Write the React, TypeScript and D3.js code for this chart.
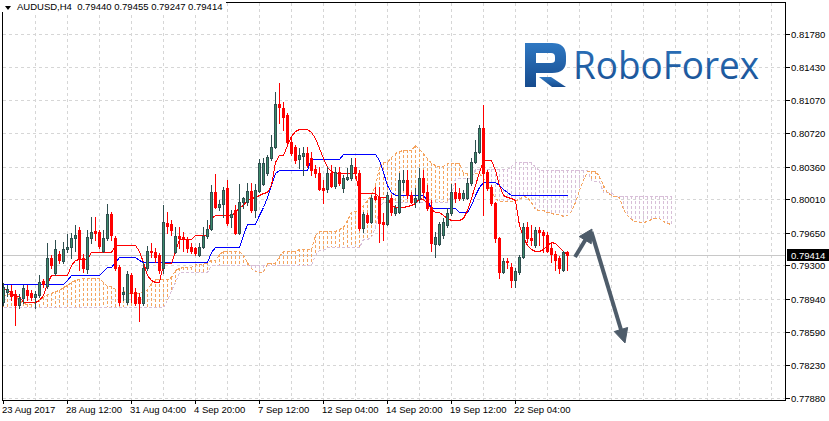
import React from "react";
import * as d3 from "d3";

const W = 829;
const H = 421;

const symbol = "AUDUSD,H4";

const openP = [
  0.7891, 0.7902, 0.7903, 0.7899, 0.7888, 0.7895, 0.7904, 0.7901, 0.7896, 0.7898,
  0.7913, 0.7908, 0.7938, 0.7922, 0.7942, 0.7935, 0.7948, 0.795, 0.7959, 0.7968,
  0.7938, 0.7926, 0.7959, 0.7967, 0.7966, 0.7946, 0.7959, 0.7985, 0.7959, 0.7928,
  0.7899, 0.7891, 0.792, 0.7902, 0.7896, 0.789, 0.7927, 0.7946, 0.7944, 0.7941,
  0.7927, 0.7976, 0.7974, 0.7944, 0.7962, 0.796, 0.7958, 0.795, 0.7949, 0.7941,
  0.795, 0.7962, 0.7969, 0.8009, 0.7993, 0.7996, 0.8013, 0.7982, 0.7989, 0.7965,
  0.7998, 0.7998, 0.801, 0.7989, 0.801, 0.8017, 0.8029, 0.8045, 0.8057, 0.8103,
  0.8099, 0.8091, 0.8062, 0.8057, 0.8044, 0.8047, 0.805, 0.8045, 0.8033, 0.8029,
  0.8013, 0.8012, 0.8029, 0.8015, 0.803, 0.8013, 0.8023, 0.8024, 0.8036, 0.8029,
  0.797, 0.7984, 0.7977, 0.8004, 0.8003, 0.7977, 0.7974, 0.8002, 0.7986, 0.7987,
  0.8019, 0.8022, 0.8005, 0.7998, 0.8001, 0.8024, 0.8009, 0.7993, 0.7953, 0.7953,
  0.7963, 0.7973, 0.7986, 0.8009, 0.8008, 0.8002, 0.8002, 0.8018, 0.8041, 0.8052,
  0.8077, 0.803, 0.8014, 0.7997, 0.7959, 0.7923, 0.7935, 0.7928, 0.7914, 0.7923,
  0.7939, 0.7971, 0.7959, 0.7952, 0.7968, 0.7966, 0.7963, 0.7949, 0.7942, 0.7938,
  0.7925, 0.7944,
];

const highP = [
  0.7911, 0.7909, 0.7909, 0.7904, 0.7899, 0.7909, 0.7909, 0.7904, 0.7903, 0.792,
  0.7915, 0.7954, 0.7941, 0.7957, 0.7946, 0.7955, 0.7964, 0.7965, 0.7973, 0.7971,
  0.7942, 0.7968, 0.7982, 0.7982, 0.7968, 0.7968, 0.7996, 0.7987, 0.7962, 0.793,
  0.7907, 0.7924, 0.7922, 0.7906, 0.7901, 0.7934, 0.7951, 0.7954, 0.7949, 0.7943,
  0.7995, 0.7987, 0.7979, 0.7971, 0.7971, 0.7966, 0.796, 0.7954, 0.795, 0.7954,
  0.7971, 0.7979, 0.8016, 0.8028, 0.8, 0.8014, 0.8022, 0.7989, 0.7995, 0.8017,
  0.8003, 0.8018, 0.8018, 0.8017, 0.8044, 0.8045, 0.8048, 0.807, 0.8116, 0.8126,
  0.8105, 0.8093, 0.8067, 0.8059, 0.8056, 0.8057, 0.8057, 0.8052, 0.8038, 0.8036,
  0.8022, 0.8036, 0.8038, 0.8036, 0.8036, 0.8027, 0.8034, 0.8045, 0.8045, 0.8032,
  0.7987, 0.7986, 0.8005, 0.8014, 0.8014, 0.7986, 0.8009, 0.8005, 0.7995, 0.8029,
  0.8032, 0.8032, 0.8009, 0.8013, 0.8034, 0.8032, 0.8016, 0.8, 0.7966, 0.7977,
  0.7981, 0.7992, 0.8017, 0.8018, 0.8013, 0.8011, 0.8024, 0.8045, 0.8064, 0.808,
  0.8102, 0.8032, 0.8016, 0.7998, 0.796, 0.7938, 0.7938, 0.7933, 0.7927, 0.7941,
  0.7976, 0.7977, 0.7973, 0.7971, 0.7971, 0.7968, 0.7966, 0.7955, 0.7946, 0.794,
  0.7946, 0.79455,
];

const lowP = [
  0.7888, 0.7897, 0.7893, 0.7866, 0.7884, 0.789, 0.7893, 0.7893, 0.7884, 0.7896,
  0.7907, 0.7906, 0.7927, 0.792, 0.7933, 0.7933, 0.7944, 0.7938, 0.7946, 0.7925,
  0.7923, 0.7922, 0.7954, 0.7957, 0.7949, 0.7944, 0.7957, 0.7957, 0.7925, 0.7888,
  0.7893, 0.7889, 0.7891, 0.7888, 0.7871, 0.7888, 0.7925, 0.7939, 0.7934, 0.7922,
  0.7922, 0.7965, 0.7963, 0.7943, 0.7949, 0.7946, 0.7944, 0.7943, 0.7941, 0.794,
  0.7949, 0.7959, 0.7968, 0.7992, 0.7989, 0.7982, 0.7973, 0.7971, 0.7964, 0.7964,
  0.7992, 0.7995, 0.7987, 0.7982, 0.8009, 0.8016, 0.8027, 0.8043, 0.8056, 0.8083,
  0.8075, 0.8059, 0.8048, 0.804, 0.8034, 0.8027, 0.8036, 0.8027, 0.8025, 0.8011,
  0.7997, 0.8009, 0.8014, 0.8013, 0.8016, 0.8009, 0.8022, 0.8022, 0.8024, 0.7968,
  0.7966, 0.7976, 0.7976, 0.8, 0.7955, 0.7957, 0.7973, 0.7984, 0.7984, 0.7986,
  0.8011, 0.8002, 0.7997, 0.7993, 0.7998, 0.8003, 0.7989, 0.7946, 0.7939, 0.7952,
  0.7959, 0.7971, 0.7984, 0.7998, 0.8, 0.8, 0.8001, 0.8016, 0.804, 0.805,
  0.7984, 0.8011, 0.7995, 0.7955, 0.7917, 0.7922, 0.7927, 0.7907, 0.7907, 0.7921,
  0.7938, 0.7955, 0.7952, 0.795, 0.7952, 0.7944, 0.7944, 0.7934, 0.7925, 0.7922,
  0.7924, 0.79247,
];

const closeP = [
  0.7907, 0.7905, 0.7897, 0.7888, 0.7895, 0.7906, 0.7898, 0.7896, 0.7899, 0.7912,
  0.791, 0.7938, 0.793, 0.7948, 0.7936, 0.7948, 0.795, 0.7959, 0.7963, 0.7938,
  0.7927, 0.796, 0.7966, 0.7965, 0.7951, 0.7959, 0.7985, 0.7963, 0.7927, 0.7891,
  0.7902, 0.7921, 0.7901, 0.789, 0.789, 0.7927, 0.7945, 0.7944, 0.7939, 0.7925,
  0.7977, 0.7972, 0.7968, 0.7962, 0.7959, 0.7958, 0.7949, 0.7946, 0.7943, 0.795,
  0.7962, 0.7969, 0.8009, 0.7993, 0.7996, 0.8011, 0.7976, 0.7985, 0.7965, 0.7998,
  0.8002, 0.801, 0.7989, 0.8011, 0.804, 0.804, 0.8046, 0.8057, 0.8103, 0.81,
  0.8089, 0.8062, 0.805, 0.8043, 0.8048, 0.805, 0.8038, 0.8032, 0.8029, 0.8012,
  0.8011, 0.8029, 0.8015, 0.803, 0.8018, 0.8024, 0.8025, 0.8038, 0.8029, 0.797,
  0.7985, 0.7977, 0.8002, 0.8001, 0.7976, 0.7974, 0.8005, 0.7987, 0.7992, 0.8022,
  0.8022, 0.8005, 0.7998, 0.8002, 0.8024, 0.8009, 0.7992, 0.7954, 0.796, 0.7974,
  0.7977, 0.7986, 0.8009, 0.8002, 0.8002, 0.8008, 0.8018, 0.8041, 0.8052, 0.8077,
  0.8029, 0.8013, 0.7997, 0.7959, 0.7923, 0.7935, 0.7934, 0.7914, 0.7924, 0.7939,
  0.7971, 0.7959, 0.7957, 0.7968, 0.7966, 0.7963, 0.7946, 0.7942, 0.7936, 0.7927,
  0.7944, 0.79414,
];

const tenkan = [
  0.7905, 0.7905, 0.7901, 0.7897, 0.7897, 0.7891, 0.7891, 0.7891, 0.7891, 0.7893,
  0.7898, 0.7911, 0.792, 0.792, 0.792, 0.792, 0.792, 0.793, 0.7936, 0.7937,
  0.7937, 0.7937, 0.7944, 0.7944, 0.7944, 0.7944, 0.7944, 0.7944, 0.7952, 0.7952,
  0.7952, 0.7952, 0.7952, 0.7952, 0.7946, 0.7934, 0.792, 0.7914, 0.7912, 0.7912,
  0.7933, 0.7933, 0.7933, 0.7946, 0.7958, 0.7958, 0.7958, 0.7958, 0.7963, 0.7963,
  0.7963, 0.7963, 0.7981, 0.7984, 0.7984, 0.7984, 0.7984, 0.7984, 0.7987, 0.7993,
  0.7995, 0.8, 0.8002, 0.8003, 0.8005, 0.8008, 0.8009, 0.8016, 0.8041, 0.8048,
  0.8048, 0.8059, 0.8069, 0.8074, 0.8076, 0.8076, 0.8076, 0.8073, 0.8067, 0.8056,
  0.8045, 0.8036, 0.8031, 0.8029, 0.8029, 0.8029, 0.8029, 0.8029, 0.8029, 0.8008,
  0.8008, 0.8008, 0.8008, 0.8008, 0.8003, 0.8003, 0.8003, 0.7995, 0.7993, 0.7993,
  0.7993, 0.7994, 0.7995, 0.7997, 0.8002, 0.8001, 0.7997, 0.799, 0.7987, 0.7987,
  0.7984, 0.7981, 0.7979, 0.7979, 0.7979, 0.7981, 0.7989, 0.8002, 0.8016, 0.803,
  0.8043, 0.8043, 0.8043, 0.8032, 0.8016, 0.8005, 0.8003, 0.8002, 0.8, 0.7973,
  0.796, 0.7952, 0.7948, 0.7946, 0.7946, 0.7948, 0.7952, 0.7955, 0.7954, 0.795,
  0.7945, 0.7942,
];

const kijun = [
  0.791, 0.791, 0.791, 0.791, 0.791, 0.791, 0.791, 0.791, 0.791, 0.791,
  0.791, 0.791, 0.791, 0.791, 0.791, 0.791, 0.7914, 0.792, 0.792, 0.792,
  0.792, 0.792, 0.792, 0.792, 0.792, 0.7924, 0.7928, 0.7928, 0.7934, 0.7939,
  0.7939, 0.7939, 0.7939, 0.7939, 0.7936, 0.7934, 0.7934, 0.7934, 0.7934, 0.7934,
  0.7934, 0.7934, 0.7934, 0.7934, 0.7934, 0.7934, 0.7934, 0.7934, 0.7934, 0.7934,
  0.7934, 0.7934, 0.7944, 0.795, 0.795, 0.795, 0.795, 0.795, 0.795, 0.795,
  0.7963, 0.7974, 0.7974, 0.7974, 0.7984, 0.7993, 0.8003, 0.8016, 0.8029, 0.8032,
  0.8032, 0.8032, 0.8032, 0.8032, 0.8032, 0.8032, 0.8032, 0.8044, 0.8044, 0.8044,
  0.8044, 0.8044, 0.8044, 0.8044, 0.8044, 0.8049, 0.8049, 0.8049, 0.8049, 0.8049,
  0.8049, 0.8049, 0.8049, 0.8049, 0.8043, 0.803, 0.8016, 0.8009, 0.8005, 0.8005,
  0.8005, 0.8005, 0.8005, 0.8005, 0.8005, 0.8005, 0.8, 0.7992, 0.7992, 0.7992,
  0.7992, 0.7992, 0.7992, 0.7992, 0.7987, 0.7987, 0.7987, 0.7995, 0.8005, 0.8014,
  0.8019, 0.8019, 0.8019, 0.8019, 0.8016, 0.8012, 0.8009, 0.8006, 0.8006, 0.8006,
  0.8006, 0.8006, 0.8006, 0.8006, 0.8006, 0.8006, 0.8006, 0.8006, 0.8006, 0.8006,
  0.8006, 0.8006,
];

const spanA = [
  0.7897, 0.7899, 0.7901, 0.7898, 0.7893, 0.789, 0.7889, 0.7889, 0.7891, 0.7894,
  0.7896, 0.7899, 0.7901, 0.7903, 0.7904, 0.7907, 0.7909, 0.7912, 0.7914, 0.7915,
  0.7917, 0.7917, 0.7917, 0.7917, 0.7917, 0.7912, 0.7908, 0.7908, 0.7905, 0.7904,
  0.7904, 0.7901, 0.7901, 0.7901, 0.7901, 0.7902, 0.7905, 0.7911, 0.7915, 0.7915,
  0.7915, 0.7915, 0.7918, 0.7925, 0.7927, 0.7928, 0.7928, 0.7928, 0.7932, 0.7932,
  0.7932, 0.7934, 0.7936, 0.7936, 0.7942, 0.7945, 0.7945, 0.7945, 0.7945, 0.7945,
  0.7941, 0.7934, 0.7927, 0.7924, 0.7923, 0.7923, 0.7933, 0.7933, 0.7933, 0.794,
  0.7946, 0.7946, 0.7946, 0.7946, 0.7948, 0.7948, 0.7948, 0.7948, 0.7963, 0.7967,
  0.7967, 0.7967, 0.7967, 0.7967, 0.7969, 0.7971, 0.7979, 0.7987, 0.7988, 0.7989,
  0.7995, 0.8, 0.8006, 0.8016, 0.8035, 0.8041, 0.8041, 0.8046, 0.805, 0.8053,
  0.8054, 0.8054, 0.8054, 0.8059, 0.8055, 0.805, 0.8045, 0.804, 0.8038, 0.8037,
  0.8037, 0.804, 0.804, 0.804, 0.804, 0.8029, 0.8029, 0.8029, 0.8029, 0.8029,
  0.8024, 0.8017, 0.801, 0.8002, 0.7999, 0.7999, 0.7999, 0.7999, 0.8, 0.8001,
  0.8004, 0.8003, 0.7998, 0.7991, 0.7989, 0.7989, 0.7987, 0.7986, 0.7985, 0.7985,
  0.7983, 0.7984, 0.7988, 0.7998, 0.8011, 0.8022, 0.8031, 0.8031, 0.8031, 0.8026,
  0.8016, 0.8009, 0.8006, 0.8004, 0.8003, 0.799, 0.7984, 0.798, 0.7978, 0.7977,
  0.7977, 0.7978, 0.798, 0.7981, 0.7981, 0.7978, 0.7976, 0.7974,
];

const spanB = [
  0.7886, 0.7886, 0.7886, 0.7886, 0.7886, 0.7886, 0.7886, 0.7886, 0.7886, 0.7886,
  0.7886, 0.7886, 0.7886, 0.7886, 0.7886, 0.7886, 0.7886, 0.7886, 0.7886, 0.7886,
  0.7886, 0.7886, 0.7886, 0.7886, 0.7886, 0.7886, 0.7886, 0.7886, 0.7886, 0.7886,
  0.7886, 0.7886, 0.7886, 0.7886, 0.7886, 0.7886, 0.7886, 0.7886, 0.7886, 0.7886,
  0.7886, 0.7893, 0.7904, 0.7912, 0.7923, 0.7923, 0.7923, 0.7923, 0.7923, 0.7923,
  0.7923, 0.7923, 0.7931, 0.7931, 0.7931, 0.7931, 0.7931, 0.7931, 0.7931, 0.7931,
  0.7931, 0.7931, 0.7931, 0.7931, 0.7931, 0.7931, 0.7931, 0.7931, 0.7931, 0.7931,
  0.7931, 0.7931, 0.7931, 0.7931, 0.7931, 0.7931, 0.7931, 0.7931, 0.7941, 0.7947,
  0.7947, 0.795, 0.795, 0.795, 0.795, 0.795, 0.795, 0.795, 0.795, 0.795,
  0.7958, 0.7958, 0.796, 0.7971, 0.7994, 0.7998, 0.7998, 0.7998, 0.7998, 0.7998,
  0.7998, 0.7998, 0.7998, 0.7998, 0.7998, 0.7998, 0.7998, 0.7998, 0.7998, 0.7998,
  0.7998, 0.7998, 0.8006, 0.8024, 0.8024, 0.8024, 0.8024, 0.8024, 0.8033, 0.8033,
  0.8033, 0.8033, 0.8033, 0.8033, 0.8033, 0.8033, 0.8033, 0.8037, 0.8041, 0.8041,
  0.8041, 0.8041, 0.8041, 0.8036, 0.8032, 0.8032, 0.8032, 0.8032, 0.8032, 0.8032,
  0.8032, 0.8032, 0.8032, 0.8032, 0.8032, 0.8032, 0.8032, 0.8022, 0.802, 0.802,
  0.8009, 0.8009, 0.8009, 0.8004, 0.8004, 0.8004, 0.8004, 0.8004, 0.8004, 0.8004,
  0.8004, 0.8004, 0.8004, 0.8004, 0.8004, 0.8004, 0.8004, 0.8004,
];

const priceTicks = [0.7788, 0.7823, 0.7859, 0.7894, 0.793, 0.7965, 0.8001, 0.8036, 0.8072, 0.8107, 0.8143, 0.8178];
const priceTickLabels = ["0.77880", "0.78230", "0.78590", "0.78940", "0.79300", "0.79650", "0.80010", "0.80360", "0.80720", "0.81070", "0.81430", "0.81780"];

const timeLabels = ["23 Aug 2017", "28 Aug 12:00", "31 Aug 04:00", "4 Sep 20:00", "7 Sep 12:00", "12 Sep 04:00", "14 Sep 20:00", "19 Sep 12:00", "22 Sep 04:00"];
const timeLabelBars = [0, 16, 32, 48, 64, 80, 96, 112, 128];

// forecast arrows, in (bar index, price) terms
const arrowUpBars = [143, 147.25];
const arrowUpPrices = [0.7939, 0.7969];
const arrowDownBars = [147.1, 155.5];
const arrowDownPrices = [0.7966, 0.7847];

const FONT = "'Liberation Sans', Arial, sans-serif";

function arrowShape(x1: number, y1: number, x2: number, y2: number, headLen: number, headHalf: number) {
  const dx = x2 - x1;
  const dy = y2 - y1;
  const len = Math.sqrt(dx * dx + dy * dy);
  const ux = dx / len;
  const uy = dy / len;
  const bx = x2 - ux * headLen;
  const by = y2 - uy * headLen;
  const px = -uy;
  const py = ux;
  return {
    shaft: { x1, y1, x2: bx + ux * 1, y2: by + uy * 1 },
    head: `M${x2},${y2} L${bx + px * headHalf},${by + py * headHalf} L${bx - px * headHalf},${by - py * headHalf} Z`,
  };
}

export default function App() {
  const n = openP.length;
  const x = d3.scaleLinear().domain([0, n - 1]).range([3, 567]);
  const y = d3.scaleLinear().domain([0.7788, 0.8178]).range([398, 34]);
  const px = (i: number) => Math.round(x(i));
  const py = (v: number) => Math.round(y(v));

  const line = d3
    .line<number>()
    .x((_, i) => px(i) + 0.5)
    .y((v) => py(v) + 0.5);

  const plotL = 2;
  const plotR = 785;
  const plotB = 400;

  const vGrid = d3.range(8, 200, 8).map((b) => px(b)).filter((v) => v < plotR);

  const lastPrice = closeP[n - 1];
  const lastY = py(lastPrice);

  const a1 = arrowShape(x(arrowUpBars[0]), y(arrowUpPrices[0]), x(arrowUpBars[1]), y(arrowUpPrices[1]), 13, 7);
  const a2 = arrowShape(x(arrowDownBars[0]), y(arrowDownPrices[0]), x(arrowDownBars[1]), y(arrowDownPrices[1]), 14, 7);

  const headerText = `${symbol}  ${openP[n - 1].toFixed(5)} ${highP[n - 1].toFixed(5)} ${lowP[n - 1].toFixed(5)} ${closeP[n - 1].toFixed(5)}`;

  return (
    <svg
      width={W}
      height={H}
      viewBox={`0 0 ${W} ${H}`}
      style={{ position: "absolute", left: 0, top: 0, display: "block", background: "#ffffff" }}
      fontFamily={FONT}
    >
      <defs>
        <linearGradient id="rfGrad" x1="0" y1="0" x2="0" y2="1">
          <stop offset="0" stopColor="#2f78c2" />
          <stop offset="1" stopColor="#164b8e" />
        </linearGradient>
      </defs>
      <rect x={0} y={0} width={W} height={H} fill="#ffffff" />

      {/* grid */}
      <g stroke="#d6d6d6" strokeWidth={1} strokeDasharray="3,3" shapeRendering="crispEdges">
        {vGrid.map((gx, i) => (
          <line key={"vg" + i} x1={gx + 0.5} x2={gx + 0.5} y1={plotL + 1} y2={plotB} />
        ))}
        {priceTicks.map((t, i) => (
          <line key={"hg" + i} x1={plotL + 1} x2={plotR} y1={py(t) + 0.5} y2={py(t) + 0.5} />
        ))}
      </g>

      {/* current price line */}
      <line x1={plotL} x2={plotR} y1={lastY + 0.5} y2={lastY + 0.5} stroke="#c8c8c8" strokeWidth={1} shapeRendering="crispEdges" />

      {/* ichimoku cloud hatch */}
      <g strokeWidth={1} strokeDasharray="3,2" shapeRendering="crispEdges">
        {spanA.map((a, j) => {
          const b = spanB[j];
          const ya = py(a);
          const yb = py(b);
          return (
            <line
              key={"h" + j}
              x1={px(j) + 0.5}
              x2={px(j) + 0.5}
              y1={Math.min(ya, yb)}
              y2={Math.max(ya, yb)}
              stroke={a >= b ? "#f4a460" : "#d8bfd8"}
            />
          );
        })}
      </g>
      <path d={line(spanB) || ""} fill="none" stroke="#d8bfd8" strokeWidth={1} strokeDasharray="3,2" shapeRendering="crispEdges" />
      <path d={line(spanA) || ""} fill="none" stroke="#f4a460" strokeWidth={1} strokeDasharray="3,2" shapeRendering="crispEdges" />

      {/* tenkan & kijun */}
      <path d={line(kijun) || ""} fill="none" stroke="#0000ff" strokeWidth={1} shapeRendering="crispEdges" />
      <path d={line(tenkan) || ""} fill="none" stroke="#ff0000" strokeWidth={1} shapeRendering="crispEdges" />

      {/* candles */}
      <g shapeRendering="crispEdges">
        {openP.map((o, i) => {
          const c = closeP[i];
          const bull = c >= o;
          const cx = px(i);
          const yH = py(highP[i]);
          const yL = py(lowP[i]);
          const yT = py(Math.max(o, c));
          const yB = py(Math.min(o, c));
          const edge = bull ? "#2f4f4f" : "#ff0000";
          return (
            <g key={"c" + i}>
              <line x1={cx + 0.5} x2={cx + 0.5} y1={yH} y2={yL + 1} stroke={edge} strokeWidth={1} />
              <rect
                x={cx - 0.5}
                y={yT + 0.5}
                width={2}
                height={Math.max(yB - yT, 0)}
                fill={bull ? "#3c8a6a" : "#ff0000"}
                stroke={edge}
                strokeWidth={1}
              />
            </g>
          );
        })}
      </g>

      {/* forecast arrows */}
      <g fill="#4e5c6a" stroke="#4e5c6a">
        <line x1={a1.shaft.x1} y1={a1.shaft.y1} x2={a1.shaft.x2} y2={a1.shaft.y2} strokeWidth={4} />
        <path d={a1.head} strokeWidth={1} strokeLinejoin="round" />
        <line x1={a2.shaft.x1} y1={a2.shaft.y1} x2={a2.shaft.x2} y2={a2.shaft.y2} strokeWidth={4} />
        <path d={a2.head} strokeWidth={1} strokeLinejoin="round" />
      </g>

      {/* logo */}
      <g fill="url(#rfGrad)">
        <path
          fillRule="evenodd"
          d="M525,43 H552 Q566,43 566,56 V61 Q566,73 552,73 H536 V87 H525 Z M536,53 H551 Q555,53 555,57 V60 Q555,63 551,63 H536 Z"
        />
        <path d="M539,77 H551 L566,87 H552 Z" />
        <text
          x={573}
          y={79}
          fontFamily="'Open Sans', 'Noto Sans', sans-serif"
          fontSize={38}
          textLength={186}
          lengthAdjust="spacingAndGlyphs"
        >
          RoboForex
        </text>
      </g>

      {/* frame */}
      <rect x={plotL + 0.5} y={2.5} width={plotR - plotL} height={plotB - 2} fill="none" stroke="#000000" strokeWidth={1} shapeRendering="crispEdges" />

      {/* price axis */}
      <g fontSize={9.5} fill="#000000">
        {priceTicks.map((t, i) => (
          <g key={"pt" + i}>
            <line x1={plotR + 1} x2={plotR + 5} y1={py(t) + 0.5} y2={py(t) + 0.5} stroke="#000000" shapeRendering="crispEdges" />
            <text x={791} y={py(t) + 3.5}>
              {priceTickLabels[i]}
            </text>
          </g>
        ))}
        <rect x={787} y={lastY - 6} width={42} height={12} fill="#000000" />
        <text x={791} y={lastY + 3.5} fill="#ffffff">
          {lastPrice.toFixed(5)}
        </text>
      </g>

      {/* time axis */}
      <g fontSize={9.5} fill="#000000">
        {timeLabels.map((t, i) => {
          const tx = px(timeLabelBars[i]);
          return (
            <g key={"tl" + i}>
              <line x1={tx + 0.5} x2={tx + 0.5} y1={plotB} y2={plotB + 4} stroke="#000000" shapeRendering="crispEdges" />
              <text x={Math.max(tx - 1, 2)} y={413}>
                {t}
              </text>
            </g>
          );
        })}
      </g>

      {/* header */}
      <rect x={0} y={0} width={226} height={12} fill="#ffffff" />
      <path d="M5,6 L11,6 L8,10 Z" fill="#000000" />
      <text x={17} y={10} fontSize={9.5} fill="#000000" style={{ whiteSpace: "pre" }}>
        {headerText}
      </text>
    </svg>
  );
}
